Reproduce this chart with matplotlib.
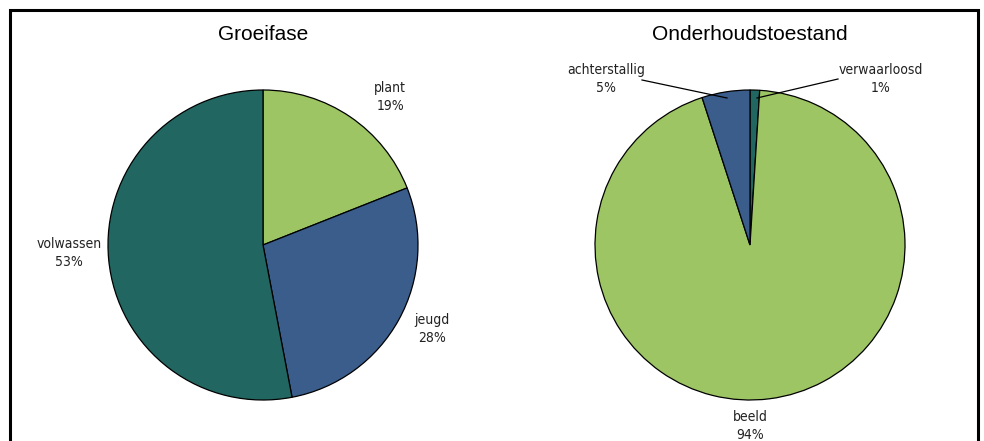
import matplotlib
matplotlib.use("Agg")
import matplotlib.pyplot as plt
from matplotlib.patches import Rectangle

# ---- data ----
left_title = "Groeifase"
left_labels = ["plant", "jeugd", "volwassen"]
left_values = [19, 28, 53]

right_title = "Onderhoudstoestand"
right_labels = ["verwaarloosd", "beeld", "achterstallig"]
right_values = [1, 94, 5]

c_green = "#9DC563"
c_blue = "#3A5D8C"
c_teal = "#226662"
left_colors = [c_green, c_blue, c_teal]
right_colors = [c_teal, c_green, c_blue]

W, H = 984, 441
fig = plt.figure(figsize=(W / 100, H / 100), dpi=100)
ax = fig.add_axes([0, 0, 1, 1])

def Y(y):
    return H - y

R = 155
wp = dict(edgecolor="black", linewidth=0.9)
ax.pie(left_values, colors=left_colors, startangle=90, counterclock=False,
       center=(263, Y(245)), radius=R, wedgeprops=wp, frame=True)
ax.pie(right_values, colors=right_colors, startangle=90, counterclock=False,
       center=(750, Y(245)), radius=R, wedgeprops=wp, frame=True)
ax.set_xlim(0, W)
ax.set_ylim(0, H)
ax.set_aspect("equal")
ax.axis("off")

tfont = dict(family="Liberation Sans", fontsize=15, ha="center", va="center")
ax.text(263, Y(34), left_title, **tfont)
ax.text(750, Y(34), right_title, **tfont)

lfont = dict(family="DejaVu Sans", fontstretch="condensed", fontsize=10,
             ha="center", va="center", linespacing=1.4, color="#222222")
def lab(x, y, name, val):
    ax.text(x, Y(y), f"{name}\n{val}%", **lfont)

lab(390, 97, left_labels[0], left_values[0])
lab(432, 329, left_labels[1], left_values[1])
lab(69, 253, left_labels[2], left_values[2])
lab(606, 79, right_labels[2], right_values[2])
lab(881, 79, right_labels[0], right_values[0])
lab(750, 426, right_labels[1], right_values[1])

ax.plot([642, 727], [Y(80), Y(98)], color="black", lw=0.9)
ax.plot([838, 757], [Y(79), Y(98)], color="black", lw=0.9)

fig.patches.append(Rectangle((10 / W, -0.1), (978 - 10) / W, (H - 10) / H + 0.1,
                             transform=fig.transFigure, fill=False,
                             edgecolor="black", linewidth=2.2))

fig.savefig("out.png", dpi=100)
